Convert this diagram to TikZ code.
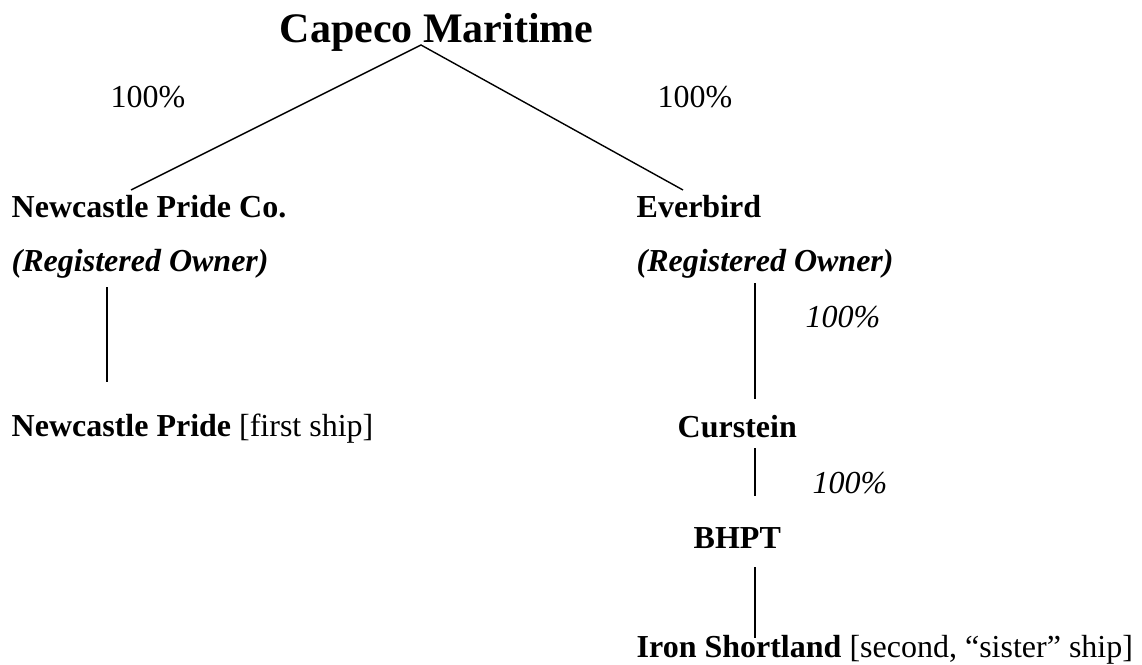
\documentclass[tikz,border=0pt]{standalone}
\usepackage{fontspec}
\setmainfont{Liberation Serif}
\begin{document}
\begin{tikzpicture}[x=1pt,y=-1pt,line width=1.4pt,
    txt/.style={anchor=base west,inner sep=0pt,font=\fontsize{32}{38}\selectfont},
    ttl/.style={txt,font=\fontsize{42}{50}\selectfont\bfseries}]
            \useasboundingbox (0,0) rectangle (1142,664);
            \def\xr{755} \def\xl{107}
            \node[ttl] (capeco) at (279,42) {Capeco Maritime};
            \node[txt] (pctl) at (110,107) {100\%};
            \node[txt] (pctr) at (657,107) {100\%};
            \node[txt] (npco) at (11,217) {\textbf{Newcastle Pride Co.}};
            \node[txt] (npreg) at (11,271) {\textbf{\textit{(Registered Owner)}}};
            \node[txt] (ever) at (636,217) {\textbf{Everbird}};
            \node[txt] (evreg) at (636,271) {\textbf{\textit{(Registered Owner)}}};
            \node[txt] (pcte) at (805,327) {\textit{100\%}};
            \node[txt] (np) at (11,436) {\textbf{Newcastle Pride} [first ship]};
            \node[txt] (curs) at (677,437) {\textbf{Curstein}};
            \node[txt] (pctc) at (812,493) {\textit{100\%}};
            \node[txt] (bhpt) at (693,548) {\textbf{BHPT}};
            \node[txt] (iron) at (636,657) {\textbf{Iron Shortland} [second, ``sister'' ship]};
            % ownership lines
            \coordinate (apex) at (421,45);
            \draw (131,190) coordinate (npt)--(apex)--(683,190) coordinate (evt);
            \draw (\xl,287) coordinate (npb)--(\xl,382) coordinate (npe);
            \draw (\xr,283) coordinate (evb)--(\xr,399) coordinate (cut);
            \draw (\xr,448) coordinate (cub)--(\xr,496) coordinate (bht);
            \draw (\xr,567) coordinate (bhb)--(\xr,638) coordinate (irt);
        \end{tikzpicture}
\end{document}
